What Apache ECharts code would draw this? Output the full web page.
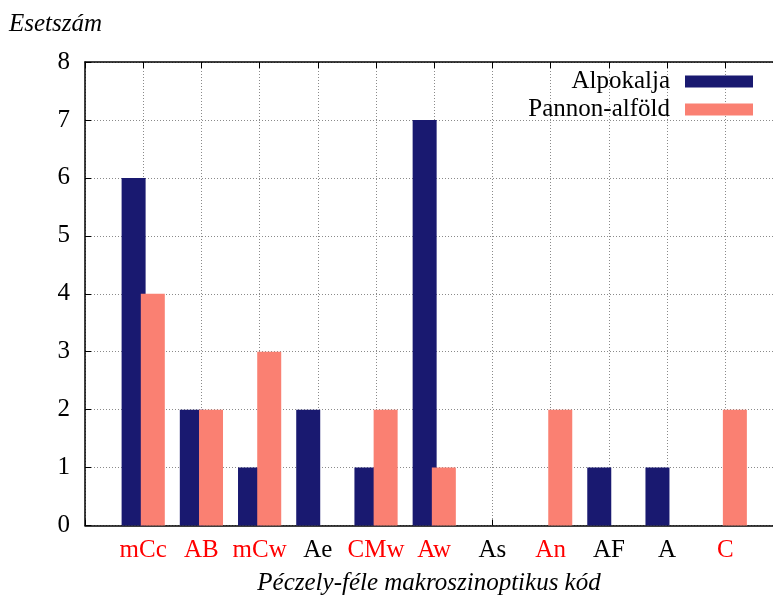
<!DOCTYPE html>
<html>
<head>
<meta charset="utf-8">
<script src="https://cdn.jsdelivr.net/npm/echarts@6/dist/echarts.min.js"></script>
<style>html,body{margin:0;padding:0;background:#fff}#c{width:773px;height:598px}</style>
</head>
<body>
<div id="c"></div>
<script>
const categories = ['mCc','AB','mCw','Ae','CMw','Aw','As','An','AF','A','C'];
const redLabels = ['mCc','AB','mCw','CMw','Aw','An','C'];
const alpokalja = [6,2,1,2,1,7,0,0,1,1,0];
const pannon = [4,2,3,0,2,1,0,2,0,0,2];
const yTicks = [0,1,2,3,4,5,6,7,8];

const FONT = 'Liberation Serif';
const FS = 25;
const chart = echarts.init(document.getElementById('c'), null, {renderer:'canvas'});

function toXY(arr){ return arr.map((v,i)=> v>0 ? [i,v] : null).filter(d=>d); }

const gridLine = {show:true, lineStyle:{color:'#8a8a8a', type:[1,2], width:1}};
const common = {min:-1, max:10.82, interval:1, type:'value'};

chart.setOption({
  animation:false,
  backgroundColor:'#fff',
  grid:{left:85, top:62, right:0, bottom:72.5, containLabel:false, outerBoundsMode:'none'},
  legend:{
    orient:'vertical', align:'right', right:20, top:69, padding:0,
    itemWidth:68, itemHeight:12, itemGap:3,
    icon:'rect',
    textStyle:{fontFamily:FONT, fontSize:FS, color:'#000', lineHeight:22, padding:[0,10,0,0]},
    data:['Alpokalja','Pannon-alföld']
  },
  xAxis:[
    Object.assign({}, common, {
      position:'bottom',
      name:'Péczely-féle makroszinoptikus kód',
      nameLocation:'middle', nameGap:45,
      nameTextStyle:{fontFamily:FONT, fontSize:FS, fontStyle:'italic', color:'#000'},
      axisLine:{show:true, onZero:false, lineStyle:{color:'#000', width:1.5}},
      axisTick:{show:true, inside:true, length:6, lineStyle:{color:'#000'}},
      splitLine:gridLine,
      axisLabel:{
        margin:12,
        formatter:function(v){
          if (Math.abs(v-Math.round(v))>1e-6) return '';
          const c = categories[Math.round(v)];
          if (!c) return '';
          return (redLabels.indexOf(c)>=0 ? '{r|' : '{k|') + c + '}';
        },
        rich:{
          r:{color:'#ff0000', fontFamily:FONT, fontSize:FS},
          k:{color:'#000', fontFamily:FONT, fontSize:FS}
        }
      }
    }),
    Object.assign({}, common, {
      position:'top',
      axisLine:{show:true, onZero:false, lineStyle:{color:'#000', width:1.5}},
      axisTick:{show:true, inside:true, length:6, lineStyle:{color:'#000'}},
      splitLine:{show:false},
      axisLabel:{show:false}
    })
  ],
  yAxis:[{
    type:'value', min:yTicks[0], max:yTicks[yTicks.length-1], interval:1,
    axisLine:{show:true, onZero:false, lineStyle:{color:'#000', width:1.5}},
    axisTick:{show:true, inside:true, length:6, lineStyle:{color:'#000'}},
    splitLine:gridLine,
    axisLabel:{margin:15, color:'#000', fontFamily:FONT, fontSize:FS}
  }],
  graphic:[{
    type:'text', left:9, top:12,
    style:{text:'Esetszám', fontFamily:FONT, fontSize:FS, fontStyle:'italic', fill:'#000'}
  }],
  series:[
    {name:'Alpokalja', type:'bar', xAxisIndex:0, barWidth:24, barGap:'-20%',
     itemStyle:{color:'#191970'}, data:toXY(alpokalja)},
    {name:'Pannon-alföld', type:'bar', xAxisIndex:0, barWidth:24, barGap:'-20%',
     itemStyle:{color:'#fa8072'}, data:toXY(pannon)}
  ]
});
</script>
</body>
</html>
